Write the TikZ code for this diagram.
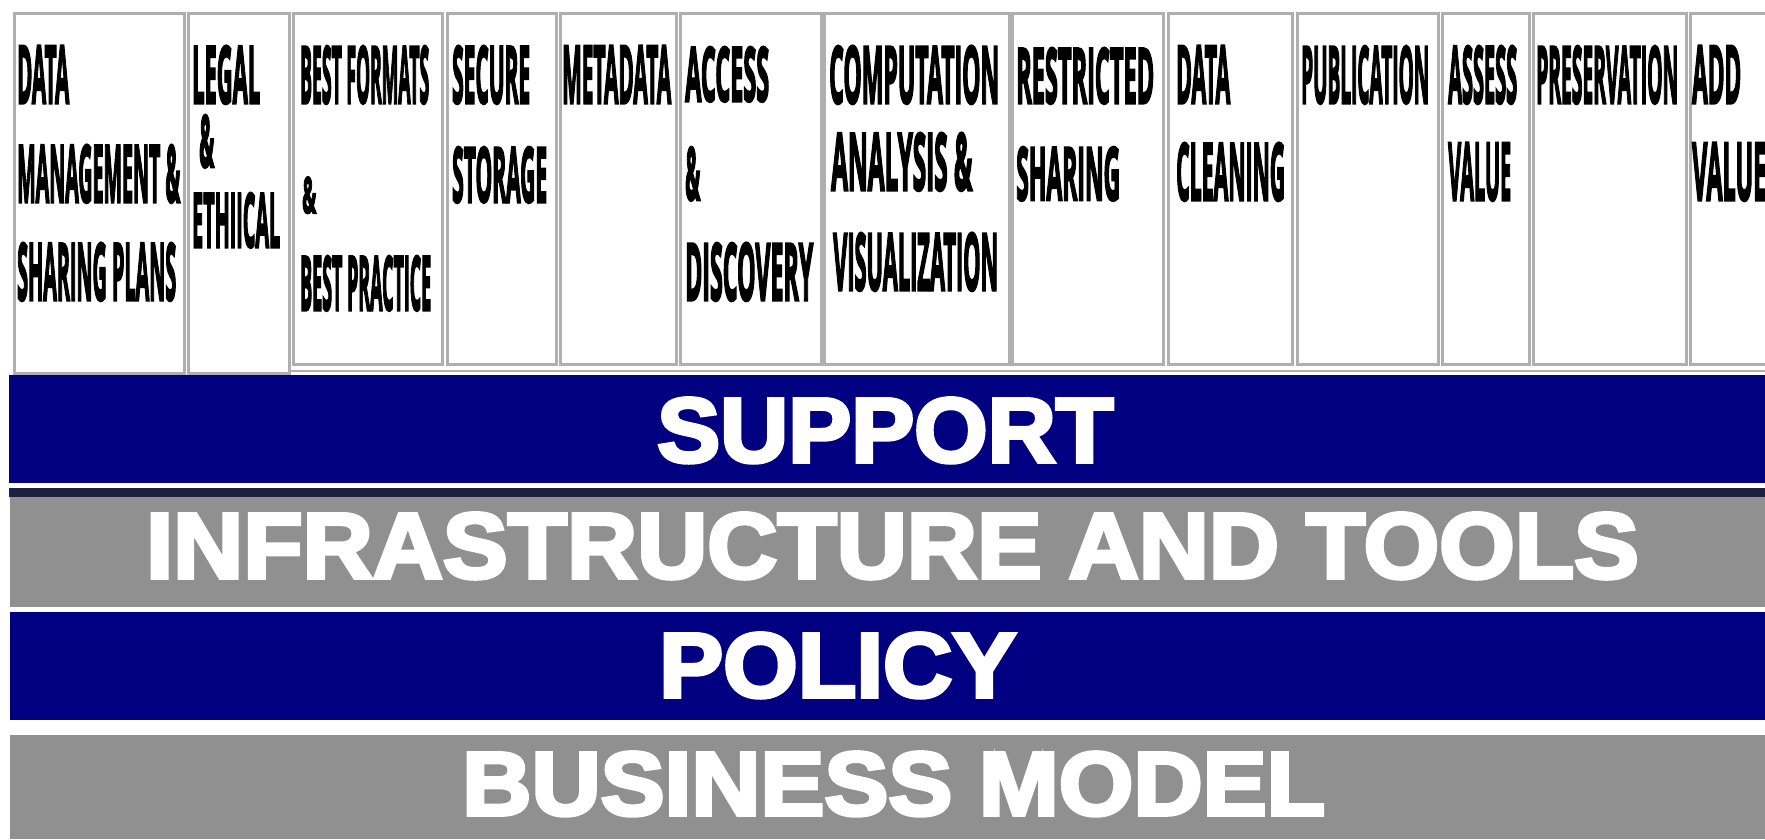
\documentclass[tikz,border=0pt]{standalone}
\usepackage{fontspec}
\usepackage{graphicx}
\newfontfamily\boxfont{Open Sans}[BoldFeatures={FakeBold=4}]
\newfontfamily\bandfont{Liberation Sans}[BoldFeatures={FakeBold=4}]
\definecolor{navyc}{RGB}{0,0,128}
\definecolor{grayc}{RGB}{144,144,144}
\definecolor{darkline}{RGB}{28,32,62}
\definecolor{cellline}{RGB}{175,175,175}
\newcommand{\fitln}[3]{\resizebox{#1pt}{#2pt}{\boxfont\bfseries #3}}
\newcommand{\fitband}[3]{\resizebox{#1pt}{#2pt}{\bandfont\bfseries #3}}
\begin{document}
\begin{tikzpicture}[x=1pt,y=-1pt,
  cell/.style={draw=cellline, line width=2.5pt, fill=white, anchor=north west, inner sep=0pt},
  txt/.style={anchor=base west, inner sep=0pt, text=black},
  bandtxt/.style={anchor=base west, inner sep=0pt, text=white}]
\useasboundingbox (0,0) rectangle (1765,839);
\fill[white] (0,0) rectangle (1765,839);
% column cells
\node[cell, minimum width=170pt, minimum height=360pt] (c1) at (13,12) {};
\node[cell, minimum width=101pt, minimum height=360pt] (c2) at (187,12) {};
\node[cell, minimum width=149pt, minimum height=351pt] (c3) at (292,12) {};
\node[cell, minimum width=109pt, minimum height=351pt] (c4) at (446,12) {};
\node[cell, minimum width=116pt, minimum height=351pt] (c5) at (559,12) {};
\node[cell, minimum width=141pt, minimum height=351pt] (c6) at (679,12) {};
\node[cell, minimum width=185pt, minimum height=351pt] (c7) at (823,12) {};
\node[cell, minimum width=151pt, minimum height=351pt] (c8) at (1011,12) {};
\node[cell, minimum width=124pt, minimum height=351pt] (c9) at (1167,12) {};
\node[cell, minimum width=141pt, minimum height=351pt] (c10) at (1296,12) {};
\node[cell, minimum width=87pt, minimum height=351pt] (c11) at (1441,12) {};
\node[cell, minimum width=153pt, minimum height=351pt] (c12) at (1532,12) {};
\node[cell, minimum width=90pt, minimum height=351pt] (c13) at (1689,12) {};
\draw[cellline, line width=2pt] (290,371) -- (1765,371);
% cell texts
\node[txt] (t1a) at (17,103) {\fitln{52}{57}{DATA}};
\node[txt] (t1b) at (17,202) {\fitln{163}{57}{MANAGEMENT \&}};
\node[txt] (t1c) at (17,300) {\fitln{159}{57}{SHARING PLANS}};
\node[txt] (t2a) at (192,103) {\fitln{68}{57}{LEGAL}};
\node[txt] (t2b) at (199,167) {\fitln{15}{52}{\&}};
\node[txt] (t2c) at (192,247) {\fitln{88}{54}{ETHIICAL}};
\node[txt] (t3a) at (300,103) {\fitln{129}{57}{BEST FORMATS}};
\node[txt] (t3b) at (302,213) {\fitln{14}{36}{\&}};
\node[txt] (t3c) at (300,310) {\fitln{131}{54}{BEST PRACTICE}};
\node[txt] (t4a) at (452,103) {\fitln{78}{57}{SECURE}};
\node[txt] (t4b) at (452,202) {\fitln{95}{55}{STORAGE}};
\node[txt] (t5a) at (562,103) {\fitln{109}{57}{METADATA}};
\node[txt] (t6a) at (685,101) {\fitln{84}{54}{ACCESS}};
\node[txt] (t6b) at (685,200) {\fitln{15}{53}{\&}};
\node[txt] (t6c) at (685,300) {\fitln{128}{57}{DISCOVERY}};
\node[txt] (t7a) at (829,103) {\fitln{170}{57}{COMPUTATION}};
\node[txt] (t7b) at (831,190) {\fitln{141}{57}{ANALYSIS \&}};
\node[txt] (t7c) at (833,290) {\fitln{165}{57}{VISUALIZATION}};
\node[txt] (t8a) at (1016,103) {\fitln{138}{55}{RESTRICTED}};
\node[txt] (t8b) at (1016,200) {\fitln{104}{53}{SHARING}};
\node[txt] (t9a) at (1176,103) {\fitln{54}{57}{DATA}};
\node[txt] (t9b) at (1176,200) {\fitln{109}{57}{CLEANING}};
\node[txt] (t10a) at (1301,103) {\fitln{128}{57}{PUBLICATION}};
\node[txt] (t11a) at (1448,103) {\fitln{69}{57}{ASSESS}};
\node[txt] (t11b) at (1448,200) {\fitln{63}{57}{VALUE}};
\node[txt] (t12a) at (1536,103) {\fitln{142}{57}{PRESERVATION}};
\node[txt] (t13a) at (1692,103) {\fitln{49}{57}{ADD}};
\node[txt] (t13b) at (1692,200) {\fitln{74}{57}{VALUE}};
% bands
\fill[navyc] (9,375) rectangle (1765,483);
\fill[darkline] (9,488) rectangle (1765,497);
\fill[grayc] (10,497) rectangle (1765,607);
\fill[navyc] (10,612) rectangle (1765,720);
\fill[grayc] (10,735) rectangle (1765,839);
\node[bandtxt] (support) at (657,462) {\fitband{456}{64}{SUPPORT}};
\node[bandtxt] (infra) at (146,578) {\fitband{1492}{65}{INFRASTRUCTURE AND TOOLS}};
\node[bandtxt] (policy) at (659,697) {\fitband{357}{64}{POLICY}};
\node[bandtxt] (business) at (462,815) {\fitband{863}{63}{BUSINESS MODEL}};
\end{tikzpicture}
\end{document}
